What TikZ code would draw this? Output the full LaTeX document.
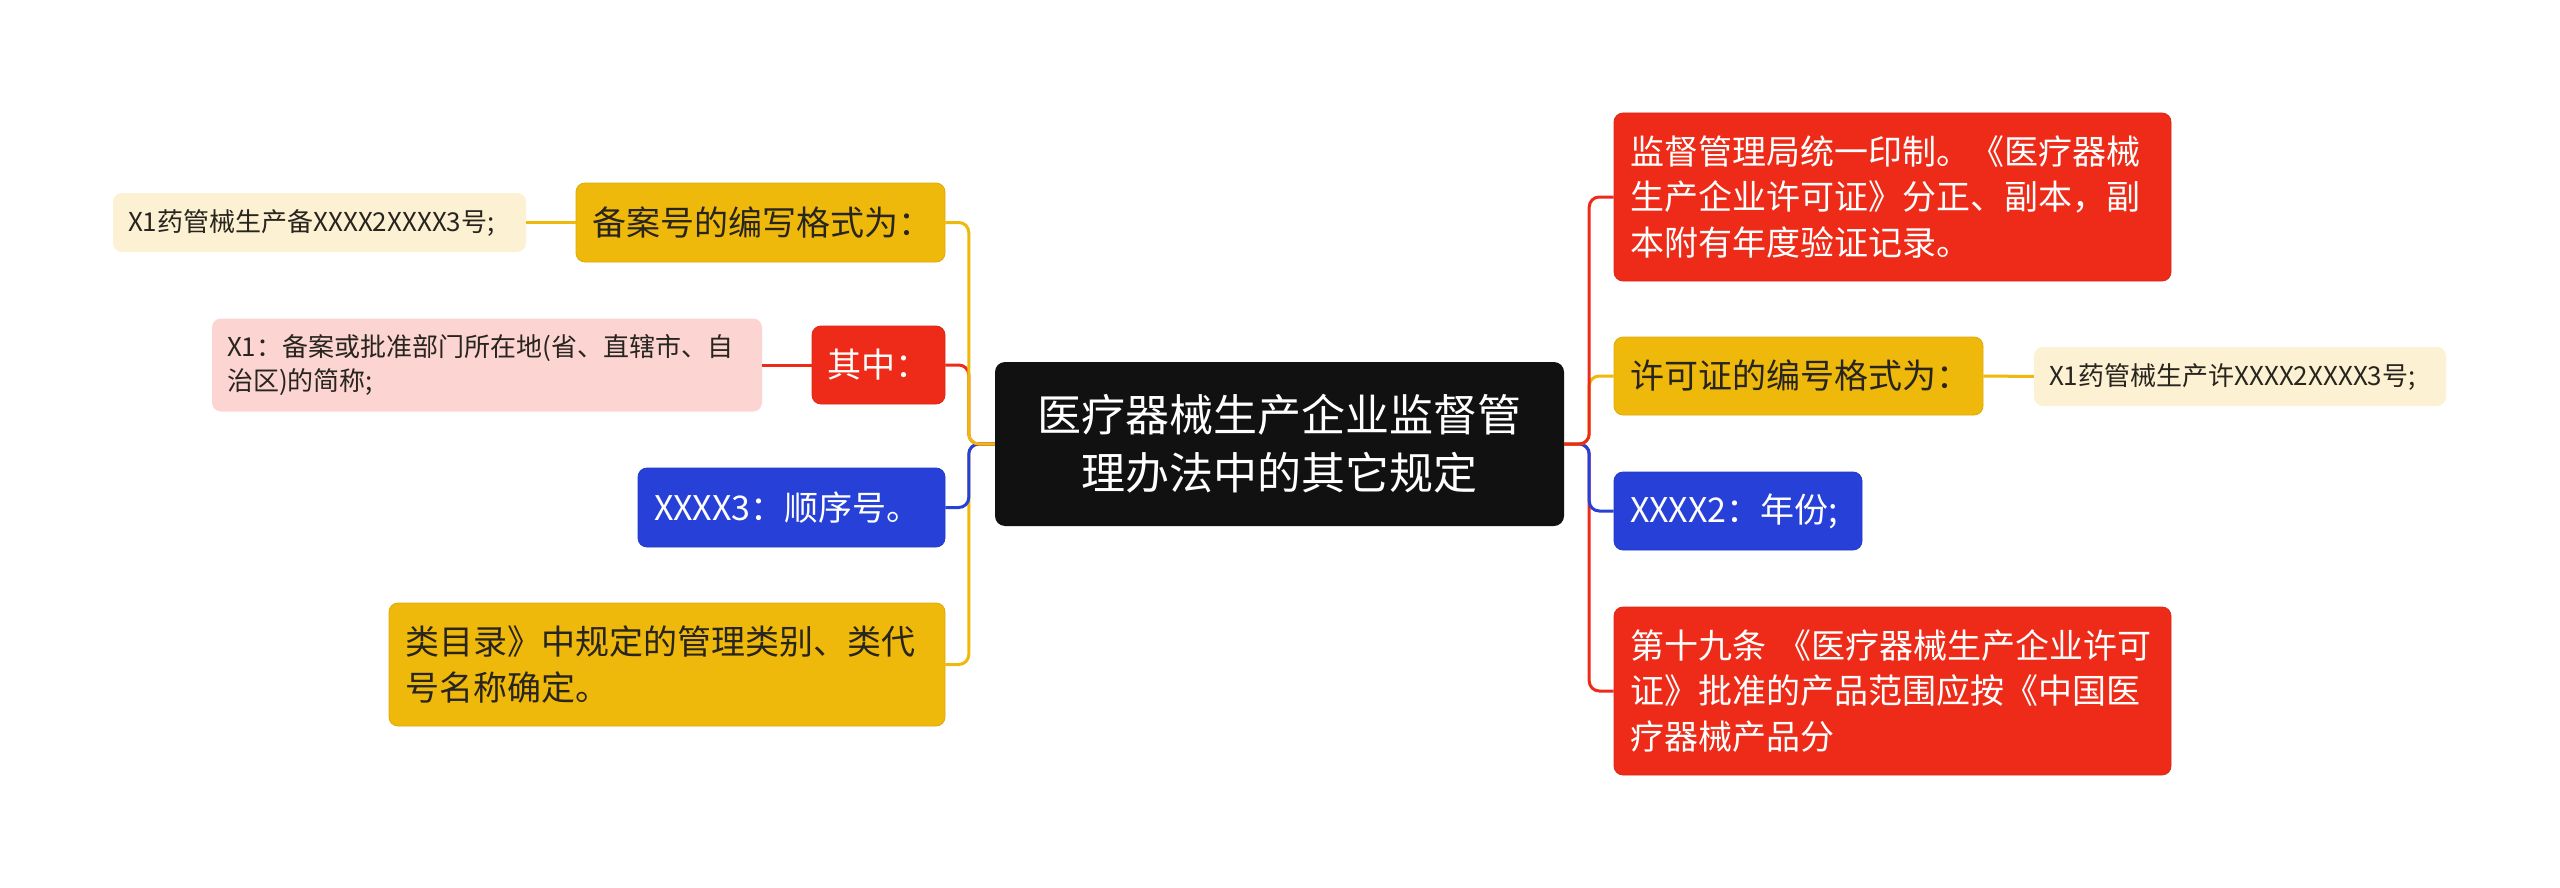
\documentclass[tikz,border=0pt]{standalone}
\usepackage{fontspec}
\setmainfont{Noto Sans CJK SC}
\definecolor{cyel}{RGB}{239,185,12}
\definecolor{cred}{RGB}{238,43,24}
\definecolor{cblue}{RGB}{38,64,216}
\definecolor{cdark}{RGB}{17,17,17}
\definecolor{lyel}{RGB}{253,241,211}
\definecolor{lpink}{RGB}{252,213,211}
\definecolor{tdark}{RGB}{40,36,30}
\tikzset{
  box/.style={rounded corners=9pt, inner xsep=16pt, inner ysep=0pt, align=left,
    font=\fontsize{34}{45.5}\selectfont},
  yelbox/.style={box, fill=cyel, draw=cyel!92!black, line width=0.8pt, text=tdark},
  redbox/.style={box, fill=cred, draw=cred!92!black, line width=0.8pt, text=white},
  bluebox/.style={box, fill=cblue, draw=cblue!92!black, line width=0.8pt, text=white},
  leaf/.style={rounded corners=9pt, inner xsep=15pt, inner ysep=0pt, align=left,
    font=\fontsize{26}{33.5}\selectfont, text=tdark},
  rootbox/.style={rounded corners=10pt, fill=cdark, text=white, inner xsep=16pt, inner ysep=0pt,
    align=center, font=\fontsize{44}{58}\selectfont},
  conn/.style={line width=3pt, rounded corners=10pt}
}
\begin{document}
\begin{tikzpicture}[x=1pt,y=-1pt]
\useasboundingbox[fill=white] (0,0) rectangle (2560,888);

\node[rootbox, text width=537pt, minimum height=164pt] (c) at (1279.5,444) {医疗器械生产企业监督管\\理办法中的其它规定};

% left side
\node[yelbox, text width=337pt, minimum height=79pt] (n1) at (760.5,222.5) {备案号的编写格式为：};
\node[redbox, inner xsep=15pt, text width=103pt, minimum height=78pt] (n2) at (878.5,365) {其中：};
\node[bluebox, text width=275pt, minimum height=79pt] (n3) at (791.5,507.5) {XXXX3：顺序号。};
\node[yelbox, text width=524pt, minimum height=123pt] (n4) at (667,664.5) {类目录》中规定的管理类别、类代\\号名称确定。};

\node[leaf, fill=lyel, text width=383pt, minimum height=59pt] (l1) at (319.5,222.5) {X1药管械生产备XXXX2XXXX3号;};
\node[leaf, fill=lpink, text width=520pt, minimum height=93pt] (l2) at (487,365) {X1：备案或批准部门所在地(省、直辖市、自\\治区)的简称;};

% right side
\node[redbox, text width=525pt, minimum height=168pt] (r1) at (1892.5,197) {监督管理局统一印制。《医疗器械\\生产企业许可证》分正、副本，副\\本附有年度验证记录。};
\node[yelbox, text width=337pt, minimum height=78pt] (r2) at (1798.5,376) {许可证的编号格式为：};
\node[bluebox, text width=216pt, minimum height=78pt] (r3) at (1738,511) {XXXX2：年份;};
\node[redbox, text width=525pt, minimum height=168pt] (r4) at (1892.5,691) {第十九条 《医疗器械生产企业许可\\证》批准的产品范围应按《中国医\\疗器械产品分};

\node[leaf, fill=lyel, text width=382pt, minimum height=59pt] (lr1) at (2240,376.5) {X1药管械生产许XXXX2XXXX3号;};

% connectors left
\draw[conn, cyel] (c.west) -- ++(-26,0) |- (n4.east);
\draw[conn, cblue] (c.west) -- ++(-26,0) |- (n3.east);
\draw[conn, cred] (c.west) -- ++(-26,0) |- (n2.east);
\draw[conn, cyel] (c.west) -- ++(-26,0) |- (n1.east);
\draw[conn, cyel] (n1.west) -- (l1.east);
\draw[conn, cred] (n2.west) -- (l2.east);

% connectors right
\draw[conn, cred] (c.east) -- ++(25,0) |- (r4.west);
\draw[conn, cblue] (c.east) -- ++(25,0) |- (r3.west);
\draw[conn, cyel] (c.east) -- ++(25,0) |- (r2.west);
\draw[conn, cred] (c.east) -- ++(25,0) |- (r1.west);
\draw[conn, cyel] (r2.east) -- (lr1.west);
\end{tikzpicture}
\end{document}
